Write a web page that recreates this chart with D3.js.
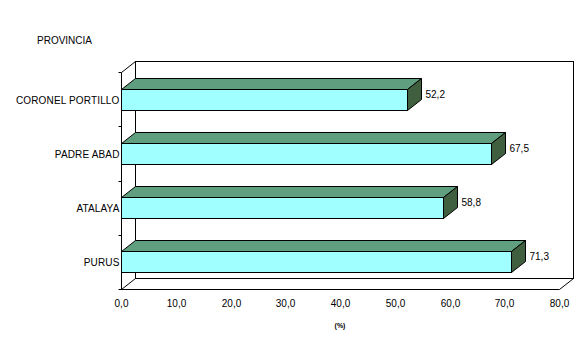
<!DOCTYPE html>
<html>
<head>
<meta charset="utf-8">
<script src="https://cdn.jsdelivr.net/npm/d3@7"></script>
<style>
  html, body { margin: 0; padding: 0; background: #fff; }
  svg { display: block; font-family: "Liberation Sans", Arial, sans-serif; }
</style>
</head>
<body>
<svg id="chart" width="588" height="337"></svg>
<script>
// Provinces (top to bottom) and their percentages
const categories = ["CORONEL PORTILLO", "PADRE ABAD", "ATALAYA", "PURUS"];
const values = [52.2, 67.5, 58.8, 71.3];
const xTicks = [0, 10, 20, 30, 40, 50, 60, 70, 80];
const axisTitle = "PROVINCIA";
const unitLabel = "(%)";

(function () {
  const svg = d3.select("#chart");
  const fmt = v => d3.format(".1f")(v).replace(".", ",");

  // Front plane of the plot area and 3D depth offset (integer pixels, drawn on half-pixel grid)
  const pL = 121, pR = 559, pT = 72, pB = 289;
  const dx = 14, dy = -11;

  const x = d3.scaleLinear().domain([0, 80]).range([pL, pR]).interpolate(d3.interpolateRound);
  const y = d3.scaleBand().domain(categories).rangeRound([pT, pB])
    .paddingInner(0.61).paddingOuter(0.305);

  const stroke = "#000";
  const g = svg.append("g").attr("transform", "translate(0.5,0.5)");

  // Back wall
  g.append("rect")
    .attr("x", pL + dx).attr("y", pT + dy)
    .attr("width", pR - pL).attr("height", pB - pT)
    .attr("fill", "#fff").attr("stroke", stroke).attr("stroke-width", 1);

  // Left wall and floor edges
  const lines = [
    [pL, pT, pL + dx, pT + dy],
    [pL, pT, pL, pB],
    [pL, pB, pL + dx, pB + dy],
    [pL, pB, pR, pB],
    [pR, pB, pR + dx, pB + dy]
  ];
  g.selectAll("line.frame").data(lines).join("line")
    .attr("class", "frame")
    .attr("x1", d => d[0]).attr("y1", d => d[1])
    .attr("x2", d => d[2]).attr("y2", d => d[3])
    .attr("stroke", stroke).attr("stroke-width", 1);

  // Category boundary ticks on the left edge
  const boundaries = d3.range(categories.length + 1).map(i => Math.round(pT + i * (pB - pT) / categories.length));
  g.selectAll("line.ytick").data(boundaries).join("line")
    .attr("class", "ytick")
    .attr("x1", pL - 3).attr("x2", pL)
    .attr("y1", d => d).attr("y2", d => d)
    .attr("stroke", stroke);

  // 3D bars
  const bars = g.selectAll("g.bar").data(categories.map((c, i) => ({ c, v: values[i] })))
    .join("g").attr("class", "bar");

  bars.append("path") // top face
    .attr("d", d => {
      const x0 = x(0), x1 = x(d.v), y0 = y(d.c);
      return `M${x0},${y0}L${x0 + dx},${y0 + dy}L${x1 + dx},${y0 + dy}L${x1},${y0}Z`;
    })
    .attr("fill", "#5f9f7f").attr("stroke", stroke).attr("stroke-width", 1);

  bars.append("path") // side face
    .attr("d", d => {
      const x1 = x(d.v), y0 = y(d.c), y1 = y(d.c) + y.bandwidth();
      return `M${x1},${y0}L${x1 + dx},${y0 + dy}L${x1 + dx},${y1 + dy}L${x1},${y1}Z`;
    })
    .attr("fill", "#3f5f3f").attr("stroke", stroke).attr("stroke-width", 1);

  bars.append("rect") // front face
    .attr("x", x(0)).attr("y", d => y(d.c))
    .attr("width", d => x(d.v) - x(0)).attr("height", y.bandwidth())
    .attr("fill", "#a0ffff").attr("stroke", stroke).attr("stroke-width", 1);

  // Value labels
  bars.append("text")
    .attr("x", d => x(d.v) + dx + 4)
    .attr("y", d => y(d.c) + y.bandwidth() + dy - 1.5)
    .attr("font-size", 10)
    .text(d => fmt(d.v));

  // Category labels
  g.selectAll("text.cat").data(categories).join("text")
    .attr("class", "cat")
    .attr("x", pL - 2)
    .attr("y", d => y(d) + y.bandwidth() / 2 + 3.5)
    .attr("text-anchor", "end")
    .attr("font-size", 10)
    .attr("letter-spacing", 0.15)
    .text(d => d);

  // X tick labels
  g.selectAll("text.xt").data(xTicks).join("text")
    .attr("class", "xt")
    .attr("x", d => x(d))
    .attr("y", 306)
    .attr("text-anchor", "middle")
    .attr("font-size", 10)
    .text(d => fmt(d));

  // Axis titles
  svg.append("text").attr("x", 37).attr("y", 44).attr("font-size", 10).text(axisTitle);
  svg.append("text").attr("x", 340).attr("y", 328).attr("text-anchor", "middle")
    .attr("font-size", 7).attr("font-weight", "bold").text(unitLabel);
})();
</script>
</body>
</html>
